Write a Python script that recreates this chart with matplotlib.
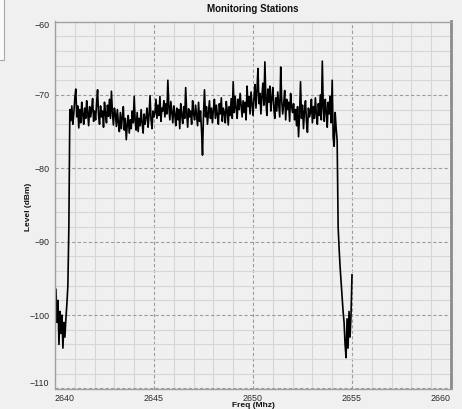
import numpy as np
import matplotlib
matplotlib.use("Agg")
import matplotlib.pyplot as plt
from matplotlib.patches import Rectangle

# Spectrum trace (dBm), sweep 2640.05 .. 2655.00 MHz in 0.05 MHz steps
start_noise = [-96.5, -101, -98, -104, -99.5, -102.5, -100, -104.5, -101, -103, -100.5,
               -98.5, -96, -88]
band_2640 = [-72, -73.5, -71.5, -74, -72.5, -70.5]
band_2641 = [-69.2, -73, -71.5, -74.5, -72, -73.8, -71, -72.6, -74, -71.8,
             -73.2, -70.8, -72.4, -74.2, -71.6, -73, -72, -70.5, -73.6, -72.2]
band_2642 = [-73.4, -71.2, -69.3, -72.8, -74, -71.5, -73, -72.2, -74.4, -71,
             -72.6, -73.8, -71.4, -72.9, -70.6, -73.2, -69.5, -72.4, -74.1, -71.8]
band_2643 = [-72.6, -74.3, -72, -73.8, -75, -72.4, -74.6, -73, -71.6, -74.8,
             -73.2, -76.1, -74, -72.8, -75.2, -73.4, -74.6, -72.2, -73.8, -70.2]
band_2644 = [-73.6, -74.8, -72.4, -75, -73.2, -74.2, -72, -73.8, -75.2, -72.6,
             -74, -73, -71.8, -74.4, -72.8, -70.1, -73.4, -74.6, -72.2, -73]
band_2645 = [-72.4, -70.6, -73.2, -71.4, -72.8, -70.2, -73.6, -71.8, -72.2, -70.8,
             -73, -71.2, -72.6, -68, -71.6, -73.4, -70.9, -72.3, -73.8, -71.5]
band_2646 = [-72.6, -74.2, -71.8, -73.4, -72, -74.6, -71.2, -72.8, -73.9, -71.6,
             -73.2, -69, -72.4, -74.4, -71.9, -73, -72.2, -74, -70.8, -72.6]
band_2647 = [-73.4, -71.4, -72.8, -74.2, -71, -73.6, -72.2, -74.8, -78.2, -72.6,
             -69.3, -73, -71.6, -74, -72.4, -70.8, -73.2, -71.8, -73.8, -72]
band_2648 = [-70.6, -73.2, -71.4, -72.8, -74, -71.2, -72.6, -70.4, -73.6, -71.8,
             -72.4, -73.8, -70.9, -72.2, -74.1, -71.6, -72.8, -70.5, -73.2, -68.2]
band_2649 = [-72.4, -70.2, -71.8, -73.2, -70.6, -72, -69.8, -71.4, -73, -70.8,
             -72.4, -71, -73.4, -68.8, -71.6, -70.2, -72.6, -69.6, -71.2, -72.8]
band_2650 = [-70.4, -68.6, -71.8, -69.4, -66.4, -71.2, -69.8, -72.6, -70.2, -68.4,
             -71.4, -65.5, -70.6, -72.8, -69.2, -71, -68.8, -72.2, -70.4, -69]
band_2651 = [-71.8, -73.2, -70.4, -72.2, -69.6, -71.4, -73, -66.2, -70.8, -72.6,
             -71.2, -69.4, -73.4, -70.6, -72, -71, -73.6, -69.8, -71.6, -72.4]
band_2652 = [-71.2, -73.4, -72, -74.2, -71.6, -75.7, -72.8, -68.2, -73.2, -71.4,
             -74.6, -72.2, -70.8, -73.6, -75.1, -71.8, -73, -72.4, -70.6, -73.8]
band_2653 = [-71.6, -73.2, -70.4, -72.6, -74, -71.2, -72.8, -70, -73.4, -65.4,
             -71.8, -73.6, -70.6, -72.2, -74.4, -71, -72.6, -70.2, -73.8, -68]
band_2654 = [-75.8, -77, -72.4, -74.6, -76.2]
end_fall = [-88, -91, -93.5, -95.5, -97.5, -99.5, -101, -104, -105.8, -100.5,
            -104.5, -99.5, -103, -100, -94.5]

level = np.array(start_noise + band_2640 + band_2641 + band_2642 + band_2643 + band_2644
                 + band_2645 + band_2646 + band_2647 + band_2648 + band_2649 + band_2650
                 + band_2651 + band_2652 + band_2653 + band_2654 + end_fall)
freq = np.linspace(2640.05, 2655.0, len(level))

x_ticks = [2640, 2645, 2650, 2655, 2660]
y_ticks = [-60, -70, -80, -90, -100, -110]

W, H = 462, 409
fig = plt.figure(figsize=(W / 100, H / 100), dpi=100, facecolor="#f0f0f0")
plt.rcParams['font.family'] = ['Liberation Sans', 'DejaVu Sans']

# axes box in pixels: x 55..451, y 21.5..388.5
ax = fig.add_axes([55 / W, 1 - 388.5 / H, (451 - 55) / W, (388.5 - 21.5) / H])
ax.set_facecolor("#f0f0f0")

ax.set_xlim(2640, 2660)
ax.set_ylim(-110, -60)
ax.set_xticks(x_ticks)
ax.set_yticks(y_ticks)
ax.set_xticks(np.arange(2641, 2660, 1), minor=True)
ax.set_yticks(np.arange(-108, -60, 2), minor=True)

ax.grid(which="minor", color="#d6d6d6", linewidth=0.8, linestyle="-")
ax.grid(which="major", color="#9c9c9c", linewidth=0.8, linestyle=(0, (3, 2)))
ax.set_axisbelow(True)

ax.plot(freq, level, color="black", linewidth=1.2)

ax.tick_params(which="both", length=0, labelsize=6.4, labelcolor="#2a2a2a")
ax.tick_params(axis="x", pad=4)
ax.tick_params(axis="y", pad=4)
xl = ax.get_xticklabels()
xl[0].set_horizontalalignment("left")
xl[-1].set_horizontalalignment("right")
yl = ax.get_yticklabels()
yl[0].set_verticalalignment("top")
yl[-1].set_verticalalignment("bottom")

for s in ["left", "bottom", "top"]:
    ax.spines[s].set_color("#a0a0a0")
    ax.spines[s].set_linewidth(1.0)
ax.spines["right"].set_color("#8c8c8c")
ax.spines["right"].set_linewidth(2.0)

fig.text(253 / W, 1 - 8.5 / H, "Monitoring Stations", ha="center", va="center",
         fontsize=7, fontweight="bold", color="#111111")
fig.text(28 / W, 1 - 207 / H, "Level (dBm)", ha="center", va="center", rotation=90,
         fontsize=6, fontweight="bold", color="#111111")
fig.text(253 / W, 1 - 405.5 / H, "Freq (Mhz)", ha="center", va="center",
         fontsize=6, fontweight="bold", color="#111111")

# small panel edge at the top-left corner of the window
fig.patches.append(Rectangle((-2 / W, 1 - 60 / H), 5.5 / W, 62 / H, transform=fig.transFigure,
                             facecolor="#fbfbfb", edgecolor="#a8a8a8", linewidth=0.8))

fig.savefig("out.png", dpi=100, facecolor=fig.get_facecolor())
